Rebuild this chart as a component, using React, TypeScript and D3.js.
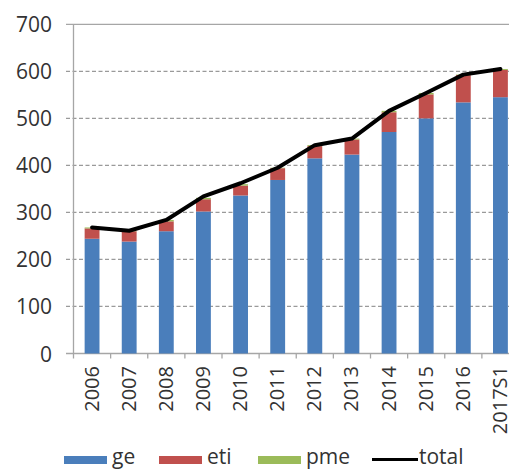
import React from "react";
import * as d3 from "d3";

// Categories and series (stacked bars + total line)
const categories = ["2006", "2007", "2008", "2009", "2010", "2011", "2012", "2013", "2014", "2015", "2016", "2017S1"];
const ge = [244, 238, 260, 302, 336, 369, 415, 423, 471, 500, 534, 545];
const eti = [22, 22, 21, 26, 21, 25, 26, 32, 42, 51, 58, 58];
const pme = [2, 1, 3, 3, 3, 1, 2, 2, 3, 3, 1, 2];
const total = [268, 261, 284, 334, 362, 395, 443, 457, 516, 554, 593, 605];
const yTicks = [0, 100, 200, 300, 400, 500, 600, 700];

const seriesNames = ["ge", "eti", "pme"];
const seriesColors: Record<string, string> = { ge: "#4a7ebb", eti: "#c0504d", pme: "#9bbb59" };

const W = 509;
const H = 471;
const FONT = "'Open Sans', sans-serif";

export default function App() {
  const x = d3.scaleBand<string>().domain(categories).range([73.5, 519]).paddingInner(0.6).paddingOuter(0.3);
  const y = d3.scaleLinear().domain([0, 700]).range([353.5, 24.3]);

  const rows = categories.map((c, i) => ({ cat: c, ge: ge[i], eti: eti[i], pme: pme[i] }));
  const stacked = d3.stack<any>().keys(seriesNames)(rows);

  const cx = (c: string) => (x(c) as number) + x.bandwidth() / 2;
  const line = d3
    .line<number>()
    .x((_, i) => cx(categories[i]))
    .y((d) => y(d));

  const step = x.step();
  const boundaries = categories.map((c) => (x(c) as number) - (step * x.paddingInner()) / 2);
  const x0 = 73.5;
  const xRight = W + 20;

  const legendY = 456;
  const legend = [
    { key: "ge", x: 64 },
    { key: "eti", x: 159 },
    { key: "pme", x: 258 },
  ];

  return (
    <svg
      width={W}
      height={H}
      style={{ position: "fixed", left: 0, top: 0, background: "#fff" }}
      fontFamily={FONT}
    >
      {/* horizontal gridlines */}
      {yTicks.map((t) => (
        <line
          key={"g" + t}
          x1={66}
          x2={xRight}
          y1={y(t)}
          y2={y(t)}
          stroke={t === 700 || t === 0 ? "#a6a6a6" : "#9a9a9a"}
          strokeWidth={1.3}
          strokeDasharray={t === 700 || t === 0 ? undefined : "4,2.5"}
        />
      ))}
      {/* y labels */}
      {yTicks.map((t) => (
        <text
          key={"yl" + t}
          x={52}
          y={y(t)}
          textAnchor="end"
          dominantBaseline="central"
          fontSize={21}
          fill="#333"
        >
          {t}
        </text>
      ))}
      {/* stacked bars */}
      {stacked.map((s) =>
        s.map((d, i) => (
          <rect
            key={s.key + i}
            x={x(categories[i])}
            width={x.bandwidth()}
            y={y(d[1])}
            height={Math.max(0, y(d[0]) - y(d[1]))}
            fill={seriesColors[s.key]}
          />
        ))
      )}
      {/* axes */}
      <line x1={x0} x2={x0} y1={y(700)} y2={y(0) + 5} stroke="#a6a6a6" strokeWidth={1.3} />
      {boundaries.slice(1).map((b, i) => (
        <line key={"t" + i} x1={b} x2={b} y1={y(0)} y2={y(0) + 5} stroke="#a6a6a6" strokeWidth={1.3} />
      ))}
      {/* total line */}
      <path d={line(total) || ""} fill="none" stroke="#000" strokeWidth={4} strokeLinejoin="round" strokeLinecap="round" />
      {/* x labels */}
      {categories.map((c) => (
        <text
          key={"xl" + c}
          transform={`translate(${cx(c) - 1},${366}) rotate(-90)`}
          textAnchor="end"
          dominantBaseline="central"
          fontSize={20}
          fill="#333"
        >
          {c}
        </text>
      ))}
      {/* legend */}
      {legend.map((l) => (
        <g key={"lg" + l.key}>
          <rect x={l.x} y={legendY} width={43} height={8} fill={seriesColors[l.key]} />
          <text x={l.x + 48} y={464} fontSize={21} fill="#333">
            {l.key}
          </text>
        </g>
      ))}
      <line x1={372} x2={418} y1={459.5} y2={459.5} stroke="#000" strokeWidth={3} />
      <text x={419} y={464} fontSize={21} fill="#333">
        total
      </text>
    </svg>
  );
}
